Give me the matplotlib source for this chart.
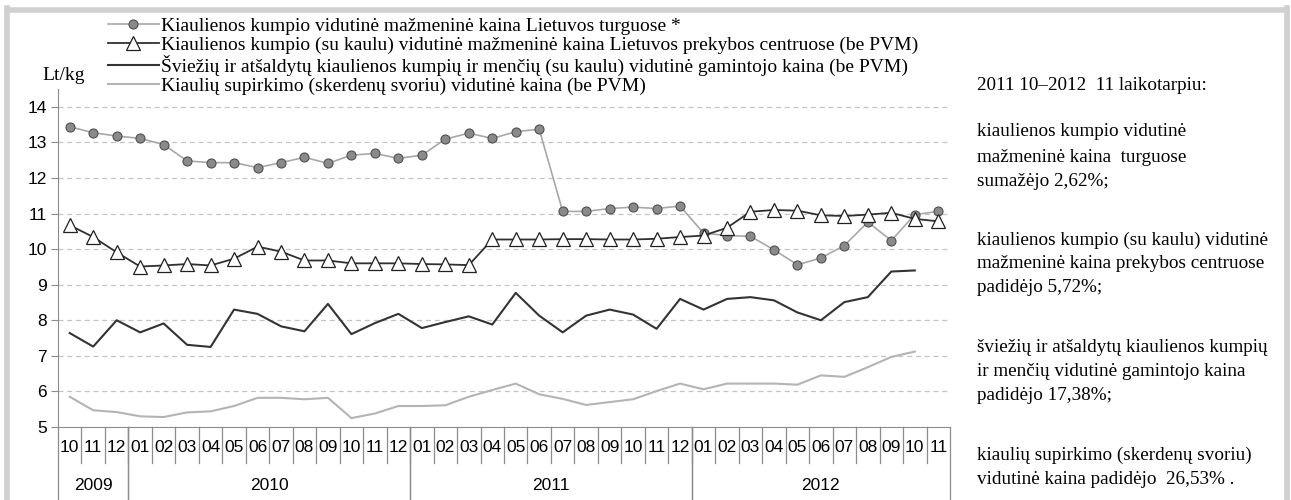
import matplotlib
matplotlib.use("Agg")
import matplotlib.pyplot as plt
import numpy as np

# -----------------------------------------------------------------------------
# Data
# -----------------------------------------------------------------------------

months = ["10", "11", "12",
          "01", "02", "03", "04", "05", "06", "07", "08", "09", "10", "11", "12",
          "01", "02", "03", "04", "05", "06", "07", "08", "09", "10", "11", "12",
          "01", "02", "03", "04", "05", "06", "07", "08", "09", "10", "11"]
years = ["2009", "2010", "2011", "2012"]
year_counts = [3, 12, 12, 11]

market = [13.44, 13.27, 13.18, 13.11, 12.94, 12.48, 12.43, 12.43, 12.29, 12.43,
          12.58, 12.41, 12.64, 12.69, 12.55, 12.64, 13.09, 13.26, 13.11, 13.30,
          13.37, 11.06, 11.06, 11.14, 11.18, 11.14, 11.21, 10.45, 10.38, 10.36,
          9.98, 9.56, 9.75, 10.10, 10.76, 10.24, 10.97, 11.06]

shops = [10.67, 10.34, 9.91, 9.51, 9.54, 9.58, 9.54, 9.73, 10.07, 9.93,
         9.68, 9.68, 9.60, 9.60, 9.60, 9.58, 9.57, 9.55, 10.27, 10.27,
         10.27, 10.28, 10.28, 10.27, 10.27, 10.29, 10.34, 10.38, 10.60, 11.05,
         11.10, 11.08, 10.95, 10.93, 10.97, 11.02, 10.85, 10.78]

producer = [7.64, 7.26, 8.00, 7.66, 7.91, 7.31, 7.25, 8.30, 8.18, 7.83,
            7.69, 8.46, 7.61, 7.92, 8.18, 7.78, 7.95, 8.11, 7.88, 8.77,
            8.13, 7.66, 8.13, 8.30, 8.16, 7.76, 8.60, 8.30, 8.60, 8.65,
            8.56, 8.22, 8.00, 8.51, 8.65, 9.37, 9.40, np.nan]

purchase = [5.85, 5.47, 5.42, 5.30, 5.28, 5.41, 5.44, 5.59, 5.82, 5.82,
            5.78, 5.82, 5.25, 5.38, 5.59, 5.59, 5.61, 5.85, 6.04, 6.22,
            5.92, 5.79, 5.62, 5.70, 5.78, 6.01, 6.22, 6.06, 6.22, 6.22,
            6.22, 6.19, 6.45, 6.41, 6.68, 6.97, 7.12, np.nan]

labels = [
    "Kiaulienos kumpio vidutinė mažmeninė kaina Lietuvos turguose *",
    "Kiaulienos kumpio (su kaulu) vidutinė mažmeninė kaina Lietuvos prekybos centruose (be PVM)",
    "Šviežių ir atšaldytų kiaulienos kumpių ir menčių (su kaulu) vidutinė gamintojo kaina (be PVM)",
    "Kiaulių supirkimo (skerdenų svoriu) vidutinė kaina (be PVM)",
]

notes = [
    (85, "2011 10–2012  11 laikotarpiu:"),
    (132, "kiaulienos kumpio vidutinė"),
    (157, "mažmeninė kaina  turguose"),
    (182, "sumažėjo 2,62%;"),
    (240, "kiaulienos kumpio (su kaulu) vidutinė"),
    (264, "mažmeninė kaina prekybos centruose"),
    (288, "padidėjo 5,72%;"),
    (347, "šviežių ir atšaldytų kiaulienos kumpių"),
    (371, "ir menčių vidutinė gamintojo kaina"),
    (395, "padidėjo 17,38%;"),
    (455, "kiaulių supirkimo (skerdenų svoriu)"),
    (479, "vidutinė kaina padidėjo  26,53% ."),
]

# -----------------------------------------------------------------------------
# Plot
# -----------------------------------------------------------------------------

W, H = 1291, 500
fig = plt.figure(figsize=(W / 100, H / 100), dpi=100)
ax = fig.add_axes([58 / W, 1 - 427 / H, (950 - 58) / W, (427 - 89) / H])

x = np.arange(len(months))
serif = "Liberation Serif"
sans = "Liberation Sans"
axis_col = "#8c8c8c"

l1, = ax.plot(x, market, color="#a8a8a8", lw=1.2, marker="o", ms=6.5,
              mfc="#8a8a8a", mec="#505050", mew=0.8)
l2, = ax.plot(x, shops, color="#303030", lw=1.3, marker="^", ms=9.5,
              mfc="white", mec="#202020", mew=0.9)
l3, = ax.plot(x, producer, color="#333333", lw=1.5)
l4, = ax.plot(x, purchase, color="#b4b4b4", lw=1.5)

ax.set_xlim(-0.5, len(months) - 0.5)
ax.set_ylim(5, 14.5)
ax.set_yticks(range(5, 15))
ax.set_yticklabels([str(v) for v in range(5, 15)], fontfamily=sans, fontsize=12.5)
ax.set_xticks([])
for s in ["top", "right"]:
    ax.spines[s].set_visible(False)
for s in ["left", "bottom"]:
    ax.spines[s].set_color(axis_col)
ax.tick_params(axis="y", direction="out", length=5, color=axis_col, pad=3)

for v in range(6, 15):
    ax.axhline(v, color="#c4c4c4", lw=0.9, ls=(0, (4, 3)), zorder=0)

# two-level category axis
trans = ax.get_xaxis_transform()
for k in range(1, len(months)):
    ax.plot([k - 0.5, k - 0.5], [0, -0.107], color=axis_col, lw=0.9,
            transform=trans, clip_on=False)
for i, m in enumerate(months):
    ax.text(i, -0.062, m, transform=trans, ha="center", va="center",
            fontfamily=sans, fontsize=12.5)
start = 0
for yr, n in zip(years, year_counts):
    for edge in (start, start + n):
        ax.plot([edge - 0.5, edge - 0.5], [0, -0.25], color=axis_col, lw=0.9,
                transform=trans, clip_on=False)
    ax.text(start + (n - 1) / 2, -0.172, yr, transform=trans, ha="center",
            va="center", fontfamily=sans, fontsize=12.5)
    start += n

fig.text(64 / W, 1 - 76 / H, "Lt/kg", ha="center", va="center",
         fontfamily=serif, fontsize=14)

leg = fig.legend([l1, l2, l3, l4], labels, loc="upper left",
                 bbox_to_anchor=(108 / W, 1 - 17 / H), frameon=False,
                 borderpad=0, borderaxespad=0, handlelength=2.6,
                 handletextpad=0.15, labelspacing=0.07,
                 prop={"family": serif, "size": 14})

for yy, t in notes:
    fig.text(977 / W, 1 - yy / H, t, ha="left", va="center",
             fontfamily=serif, fontsize=13.8)

# grey frame
frame = "#d0d0d0"
fig.add_artist(plt.Line2D([7 / W, 7 / W], [0, 1 - 8 / H], color=frame, lw=4))
fig.add_artist(plt.Line2D([7 / W, 1287 / W], [1 - 10 / H, 1 - 10 / H], color=frame, lw=4))
fig.add_artist(plt.Line2D([1287 / W, 1287 / W], [0, 1 - 8 / H], color=frame, lw=4))

fig.savefig("out.png", dpi=100)
